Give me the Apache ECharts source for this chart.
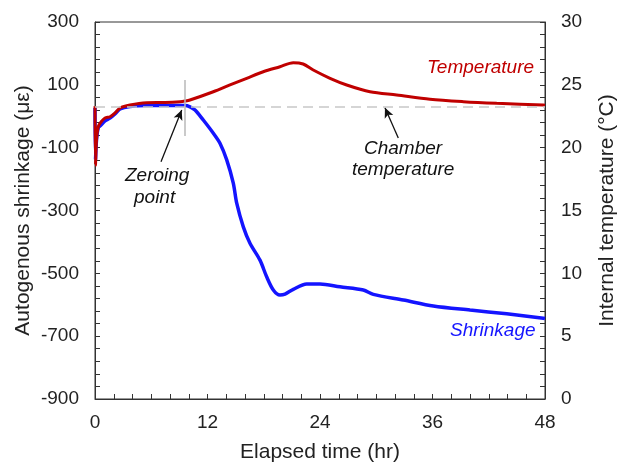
<!DOCTYPE html>
<html><head><meta charset="utf-8">
<script src="https://cdn.jsdelivr.net/npm/echarts@6/dist/echarts.min.js"></script>
<style>html,body{margin:0;padding:0;background:#fff}#c{width:617px;height:465px}</style>
</head><body><div id="c"></div>
<script>
// Shrinkage (με) vs elapsed time (hr)
const shrinkTime = [0,0.05,0.16,0.35,0.64,1.07,1.6,2.13,2.67,3.73,5.5,7.47,9.07,9.6,10.13,10.67,11.55,12.62,13.33,14.05,14.75,15.11,15.82,16.53,17.6,18.31,19.02,19.73,20.27,21.15,22.58,24,26.13,28.62,29.69,32.89,36.09,40,43.92,47.82,48];
const shrinkValue = [26,-139,-76,-37,-28,-15,-6,7,23,31,34,34,34,34,30,20,-12,-54,-86,-139,-213,-276,-352,-404,-458,-511,-553,-569,-566,-551,-534,-534,-543,-553,-567,-585,-604,-617,-629,-643,-644];
// Internal temperature (°C) vs elapsed time (hr)
const tempTime = [0,0.05,0.16,0.35,0.64,1.07,1.6,2.13,2.67,3.73,5.5,7.47,9.07,9.6,10.13,12.62,14.4,16.18,17.95,19.73,21.15,22.2,23.28,25.07,26.85,29.33,32.18,35.73,39.29,42.85,47.82,48];
const tempValue = [23.3,18.6,20.6,21.67,22.04,22.36,22.46,22.76,23.16,23.4,23.58,23.6,23.66,23.71,23.79,24.45,24.99,25.52,26.04,26.44,26.76,26.66,26.18,25.52,24.99,24.45,24.19,23.85,23.66,23.53,23.39,23.38];
const chamberTemp = 23.26;
const zeroingTime = 9.6;
const xTicks = [0,12,24,36,48];
const leftTicks = [-900,-700,-500,-300,-100,100,300];
const rightTicks = [0,5,10,15,20,25,30];

const FONT = 'Liberation Sans, Arial, sans-serif';
const chart = echarts.init(document.getElementById('c'));
const axisCommon = {
  axisLine:{show:true,onZero:false,lineStyle:{color:'#333',width:1}},
  axisTick:{show:true,inside:true,length:5,lineStyle:{color:'#333'}},
  minorTick:{show:true,length:5,lineStyle:{color:'#333'}},
  splitLine:{show:false},
  axisLabel:{color:'#222',fontSize:19,fontFamily:FONT},
  nameTextStyle:{color:'#222',fontSize:21,fontFamily:FONT},
  nameLocation:'middle'
};
chart.setOption({
  animation:false,
  grid:{left:95,right:72,top:22,bottom:66,containLabel:false,outerBoundsMode:'none',show:true,borderColor:'#333',borderWidth:1},
  xAxis:Object.assign({}, axisCommon, {
    type:'value',min:xTicks[0],max:xTicks[xTicks.length-1],interval:12,
    name:'Elapsed time (hr)',nameGap:43,
    minorTick:Object.assign({},axisCommon.minorTick,{splitNumber:6}),
    axisLabel:Object.assign({},axisCommon.axisLabel,{margin:14})
  }),
  yAxis:[
    Object.assign({}, axisCommon, {
      type:'value',min:leftTicks[0],max:leftTicks[leftTicks.length-1],interval:200,
      name:'Autogenous shrinkage (με)',nameGap:61,nameMoveOverlap:false,
      minorTick:Object.assign({},axisCommon.minorTick,{splitNumber:5}),
      axisLabel:Object.assign({},axisCommon.axisLabel,{margin:16})
    }),
    Object.assign({}, axisCommon, {
      type:'value',position:'right',min:rightTicks[0],max:rightTicks[rightTicks.length-1],interval:5,
      name:'Internal temperature (°C)',nameGap:52,
      minorTick:Object.assign({},axisCommon.minorTick,{splitNumber:5}),
      axisLabel:Object.assign({},axisCommon.axisLabel,{margin:16})
    })
  ],
  series:[
    {
      type:'line',yAxisIndex:0,showSymbol:false,smooth:0.3,
      data:shrinkTime.map((t,i)=>[t,shrinkValue[i]]),
      lineStyle:{color:'#1414ff',width:3.5},
      z:2,
      markLine:{
        silent:true,symbol:['none','none'],label:{show:false},
        data:[
          [{coord:[zeroingTime,115],lineStyle:{color:'#b8b8b8',width:1.5,type:'solid'}},{coord:[zeroingTime,-63]}],
          [{coord:[7.04,-145],symbol:'none',lineStyle:{color:'#111',width:1.3,type:'solid'}},{coord:[9.25,20],symbol:'arrow',symbolSize:[7,10]}],
          [{coord:[32.35,-69],symbol:'none',lineStyle:{color:'#111',width:1.3,type:'solid'}},{coord:[30.93,27],symbol:'arrow',symbolSize:[7,10]}]
        ]
      }
    },
    {
      type:'line',yAxisIndex:1,showSymbol:false,smooth:0.3,
      data:tempTime.map((t,i)=>[t,tempValue[i]]),
      lineStyle:{color:'#c00000',width:3},
      z:3,
      markLine:{
        silent:true,symbol:['none','none'],label:{show:false},
        lineStyle:{color:'#c8c8c8',width:1.5,type:[10,6]},
        data:[{yAxis:chamberTemp}]
      }
    }
  ],
  graphic:[
    {type:'text',left:125,top:166,style:{text:'Zeroing',font:'italic 19px '+FONT,fill:'#111'}},
    {type:'text',left:134,top:188,style:{text:'point',font:'italic 19px '+FONT,fill:'#111'}},
    {type:'text',left:364,top:139,style:{text:'Chamber',font:'italic 19px '+FONT,fill:'#111'}},
    {type:'text',left:352,top:160,style:{text:'temperature',font:'italic 19px '+FONT,fill:'#111'}},
    {type:'text',left:427,top:58,style:{text:'Temperature',font:'italic 19px '+FONT,fill:'#c00000'}},
    {type:'text',left:450,top:321,style:{text:'Shrinkage',font:'italic 19px '+FONT,fill:'#1414ff'}}
  ]
});
</script></body></html>
